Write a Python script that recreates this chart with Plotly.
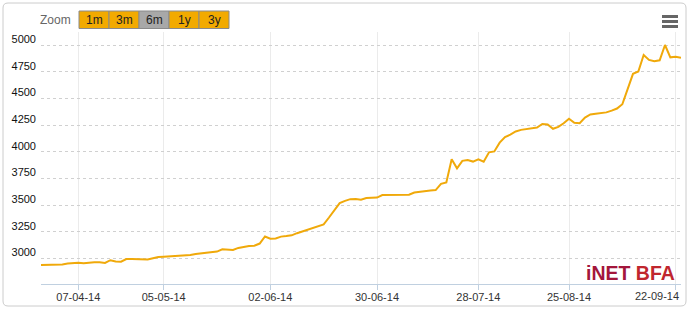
import plotly.graph_objects as go
import pandas as pd

# ---------------- data ----------------
start_date = "2014-03-27"
end_date = "2014-09-23"
missing_dates = ["2014-04-18", "2014-04-21", "2014-04-28", "2014-05-01",
                 "2014-07-14", "2014-08-08", "2014-08-11", "2014-08-15"]

values = [
    2939, 2939, 2939, 2939, 2944, 2952, 2960, 2961, 2956, 2961,
    2964, 2964, 2958, 2984, 2971, 2970, 2995, 2995, 2994, 2990,
    2991, 3002, 3014, 3017, 3020, 3023, 3025, 3028, 3033, 3043,
    3048, 3053, 3060, 3065, 3086, 3086, 3080, 3099, 3111, 3118,
    3120, 3140, 3206, 3186, 3188, 3205, 3210, 3217, 3237, 3253,
    3266, 3281, 3303, 3320, 3384, 3455, 3519, 3540, 3556, 3558,
    3550, 3566, 3565, 3571, 3595, 3595, 3596, 3598, 3596, 3597,
    3618, 3626, 3633, 3637, 3641, 3700, 3713, 3930, 3845, 3915,
    3923, 3908, 3930, 3907, 3995, 4003, 4085, 4138, 4160, 4190,
    4205, 4212, 4215, 4227, 4260, 4256, 4215, 4233, 4267, 4310,
    4272, 4267, 4320, 4350, 4357, 4361, 4369, 4385, 4405, 4445,
    4590, 4730, 4752, 4906, 4860, 4848, 4857, 5000, 4885, 4891,
    4881,
]

tick_dates = ["2014-04-07", "2014-05-05", "2014-06-02", "2014-06-30",
              "2014-07-28", "2014-08-25", "2014-09-22"]
tick_labels = ["07-04-14", "05-05-14", "02-06-14", "30-06-14",
               "28-07-14", "25-08-14", "22-09-14"]
y_ticks = [3000, 3250, 3500, 3750, 4000, 4250, 4500, 4750, 5000]
zoom_buttons = ["1m", "3m", "6m", "1y", "3y"]
active_button = "6m"

days = pd.bdate_range(start_date, end_date)
days = [d.strftime("%Y-%m-%d") for d in days if d.strftime("%Y-%m-%d") not in missing_dates]
days = days[:len(values)]

# ---------------- layout geometry ----------------
W, H = 690, 311
L, R, T, B = 41, 9, 32, 27
PW, PH = W - L - R, H - T - B

def px(x):
    return (x - L) / PW

def py(y):
    return (H - B - y) / PH

LINE = "#F0A90A"
BTN = "#F2AA00"
TICKFONT = dict(family="Liberation Sans, Arial", size=11, color="#333333")

fig = go.Figure()
fig.add_trace(go.Scatter(
    x=days, y=values, mode="lines",
    line=dict(color=LINE, width=2),
    hoverinfo="x+y", showlegend=False,
))

shapes = []
annotations = []

# outer rounded border
x0, x1, y0, y1, r = 3, 686, 3, 306, 5
path = (f"M {px(x0 + r)} {py(y0)} L {px(x1 - r)} {py(y0)} "
        f"Q {px(x1)} {py(y0)} {px(x1)} {py(y0 + r)} "
        f"L {px(x1)} {py(y1 - r)} Q {px(x1)} {py(y1)} {px(x1 - r)} {py(y1)} "
        f"L {px(x0 + r)} {py(y1)} Q {px(x0)} {py(y1)} {px(x0)} {py(y1 - r)} "
        f"L {px(x0)} {py(y0 + r)} Q {px(x0)} {py(y0)} {px(x0 + r)} {py(y0)} Z")
shapes.append(dict(type="path", xref="paper", yref="paper", path=path,
                   line=dict(color="#CCCCCC", width=1), fillcolor="rgba(0,0,0,0)",
                   layer="below"))

# zoom label and buttons
annotations.append(dict(x=px(73), y=py(20), xref="paper", yref="paper",
                        text="Zoom", showarrow=False, xanchor="right", yanchor="middle",
                        font=dict(family="Liberation Sans, Arial", size=12, color="#666666")))
bx, bw, by0, by1 = 79, 30, 11, 28.5
for i, lab in enumerate(zoom_buttons):
    xa, xb = bx + i * bw, bx + (i + 1) * bw
    fill = "#A8A8A8" if lab == active_button else BTN
    shapes.append(dict(type="rect", xref="paper", yref="paper",
                       x0=px(xa), x1=px(xb), y0=py(by1), y1=py(by0),
                       fillcolor=fill, line=dict(color="#8A8A8A", width=1)))
    annotations.append(dict(x=px((xa + xb) / 2), y=py((by0 + by1) / 2 + 0.5),
                            xref="paper", yref="paper", text=lab, showarrow=False,
                            xanchor="center", yanchor="middle",
                            font=dict(family="Liberation Sans, Arial", size=12, color="#222222")))

# menu icon
for yy in (16.5, 21.5, 26.5):
    shapes.append(dict(type="line", xref="paper", yref="paper",
                       x0=px(662), x1=px(678), y0=py(yy), y1=py(yy),
                       line=dict(color="#666666", width=3)))

# logo
annotations.append(dict(x=px(677), y=py(273), xref="paper", yref="paper",
                        text="<b><span style='color:#A3163C'>iNET</span> "
                             "<span style='color:#C0262E'>BFA</span></b>",
                        showarrow=False, xanchor="right", yanchor="middle",
                        font=dict(family="Liberation Sans, Arial", size=19.5)))

# last x tick label kept inside the chart (right-aligned, as in the reference)
shown_ticktext = tick_labels[:-1] + [""]
annotations.append(dict(x=px(681), y=py(296), xref="paper", yref="paper",
                        text=tick_labels[-1], showarrow=False,
                        xanchor="right", yanchor="middle", font=TICKFONT))

fig.update_layout(
    width=W, height=H,
    margin=dict(l=L, r=R, t=T, b=B, autoexpand=False),
    paper_bgcolor="white", plot_bgcolor="white",
    shapes=shapes, annotations=annotations,
    xaxis=dict(
        type="category", categoryorder="array", categoryarray=days,
        range=[0, len(values) - 1], automargin=False,
        tickmode="array", tickvals=tick_dates, ticktext=shown_ticktext,
        showgrid=True, gridcolor="#EBEBEB", gridwidth=1,
        showline=True, linecolor="#C0D0E0", linewidth=1,
        ticks="outside", ticklen=5, tickcolor="#C0D0E0",
        ticklabelstandoff=-2,
        tickfont=TICKFONT,
        zeroline=False, fixedrange=True,
    ),
    yaxis=dict(
        range=[2761, 5122], automargin=False,
        tickmode="array", tickvals=y_ticks,
        showgrid=True, gridcolor="#D0D0D0", griddash="dot", gridwidth=1,
        showline=False, zeroline=False, ticks="",
        ticklabelshift=-6, ticklabelstandoff=4,
        tickfont=dict(family="Liberation Sans, Arial", size=11, color="#111111"),
        fixedrange=True,
    ),
    hovermode="x",
)

fig.write_html("out.html")
